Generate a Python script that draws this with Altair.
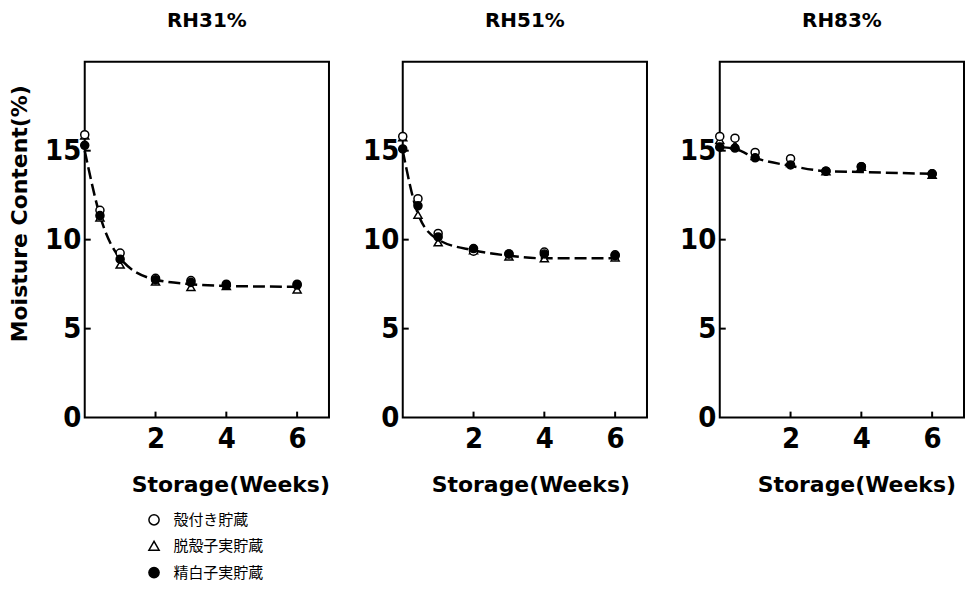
import altair as alt
import pandas as pd

weeks = [0, 0.43, 1, 2, 3, 4, 6]
series_names = ["殻付き貯蔵", "脱殻子実貯蔵", "精白子実貯蔵"]
panel_titles = ["RH31%", "RH51%", "RH83%"]

# RH31%
rh31_hulled = [15.9, 11.65, 9.25, 7.83, 7.7, 7.5, 7.5]
rh31_dehulled = [15.85, 11.25, 8.6, 7.65, 7.34, 7.4, 7.2]
rh31_polished = [15.3, 11.35, 8.9, 7.75, 7.6, 7.45, 7.45]
rh31_curve = [15.0, 11.35, 8.95, 7.75, 7.5, 7.4, 7.35]

# RH51%
rh51_hulled = [15.8, 12.3, 10.35, 9.35, 9.2, 9.3, 9.15]
rh51_dehulled = [15.75, 11.4, 9.85, 9.4, 9.05, 8.95, 9.0]
rh51_polished = [15.1, 11.9, 10.15, 9.5, 9.2, 9.2, 9.1]
rh51_curve = [15.0, 11.45, 10.0, 9.4, 9.1, 8.95, 8.95]

# RH83%
rh83_hulled = [15.8, 15.7, 14.9, 14.55, 13.85, 14.1, 13.7]
rh83_dehulled = [15.6, 15.3, 14.7, 14.3, 13.85, 14.1, 13.65]
rh83_polished = [15.2, 15.15, 14.6, 14.2, 13.85, 14.1, 13.7]
rh83_curve = [15.2, 15.1, 14.6, 14.15, 13.85, 13.8, 13.7]

x_ticks = [2, 4, 6]
y_labels = [0, 5, 10, 15]
y_ticks = [5, 10, 15]

W, H = 245, 357
TICK_FONT = "Liberation Sans Narrow, DejaVu Sans Condensed, Liberation Sans, sans-serif"
TITLE_FONT = "DejaVu Sans, Liberation Sans, sans-serif"
CJK_FONT = "Noto Sans CJK JP, sans-serif"

legend = alt.Legend(
    title=None,
    orient="none",
    legendX=62,
    legendY=452,
    padding=0,
    symbolSize=105,
    symbolStrokeWidth=1.5,
    symbolOpacity=1,
    labelFont=CJK_FONT,
    labelFontSize=15,
    labelColor="black",
    rowPadding=10,
    labelOffset=12,
)


def make_panel(title, hulled, dehulled, polished, curve, first, xtitle_x):
    recs = []
    for name, vals in [(series_names[1], dehulled), (series_names[0], hulled), (series_names[2], polished)]:
        for w, v in zip(weeks, vals):
            recs.append({"week": w, "mc": v, "series": name})
    pts = pd.DataFrame(recs)
    cdf = pd.DataFrame({"week": weeks, "mc": curve})

    xs = alt.Scale(domain=[0, 6.9], nice=False, zero=False)
    ys = alt.Scale(domain=[0, 20], nice=False)

    xaxis = alt.Axis(
        values=x_ticks, title="Storage(Weeks)", ticks=False, tickSize=0, domain=False, grid=False,
        labelPadding=7, titleX=xtitle_x, titleY=67, titleBaseline="middle", titleAlign="center",
    )
    ykw = dict(values=y_labels, ticks=False, tickSize=0, domain=False, grid=False, labelPadding=4,
               minExtent=32, maxExtent=32)
    if first:
        ykw.update(title="Moisture Content(%)", titleX=-65, titleY=152, titleBaseline="middle",
                   titleAlign="center")
    else:
        ykw.update(title="")
    yaxis = alt.Axis(**ykw)

    line = alt.Chart(cdf).mark_line(
        color="black", strokeWidth=2.5, strokeDash=[12, 5], interpolate="monotone"
    ).encode(
        x=alt.X("week:Q", scale=xs, axis=xaxis),
        y=alt.Y("mc:Q", scale=ys, axis=yaxis),
    )
    points = alt.Chart(pts).mark_point(
        filled=True, strokeWidth=1.5, opacity=1, fillOpacity=1, size=65
    ).encode(
        x=alt.X("week:Q", scale=xs, axis=xaxis),
        y=alt.Y("mc:Q", scale=ys, axis=yaxis),
        shape=alt.Shape("series:N", scale=alt.Scale(domain=series_names,
                                                      range=["circle", "triangle-up", "circle"]),
                        legend=legend),
        fill=alt.Fill("series:N", scale=alt.Scale(domain=series_names,
                                                    range=["white", "white", "black"]),
                      legend=legend),
        stroke=alt.Stroke("series:N", scale=alt.Scale(domain=series_names,
                                                        range=["black", "black", "black"]),
                          legend=legend),
    )
    yt = alt.Chart(pd.DataFrame({"mc": y_ticks})).mark_rule(color="black", strokeWidth=2).encode(
        y=alt.Y("mc:Q", scale=ys, axis=yaxis), x=alt.value(0), x2=alt.value(6)
    )
    xt = alt.Chart(pd.DataFrame({"week": x_ticks})).mark_rule(color="black", strokeWidth=2).encode(
        x=alt.X("week:Q", scale=xs, axis=xaxis), y=alt.value(H), y2=alt.value(H - 6)
    )
    return alt.layer(line, yt, xt, points).properties(
        width=W, height=H,
        title=alt.TitleParams(title, font=TITLE_FONT, fontSize=20, fontWeight="bold",
                              color="black", offset=31, anchor="middle"),
    )


p1 = make_panel(panel_titles[0], rh31_hulled, rh31_dehulled, rh31_polished, rh31_curve, True, 146)
p2 = make_panel(panel_titles[1], rh51_hulled, rh51_dehulled, rh51_polished, rh51_curve, False, 128)
p3 = make_panel(panel_titles[2], rh83_hulled, rh83_dehulled, rh83_polished, rh83_curve, False, 137)

chart = alt.hconcat(p1, p2, p3, spacing=30).properties(
    padding={"left": 8, "top": 9, "right": 0, "bottom": 0},
    background="white",
).configure_view(
    stroke="black", strokeWidth=2
).configure_axis(
    labelFont=TICK_FONT, labelFontSize=29, labelFontWeight="bold", labelColor="black",
    titleFont=TITLE_FONT, titleFontSize=22, titleFontWeight="bold", titleColor="black",
)

chart.save("out.html", embed_options={"renderer": "svg", "actions": False})
